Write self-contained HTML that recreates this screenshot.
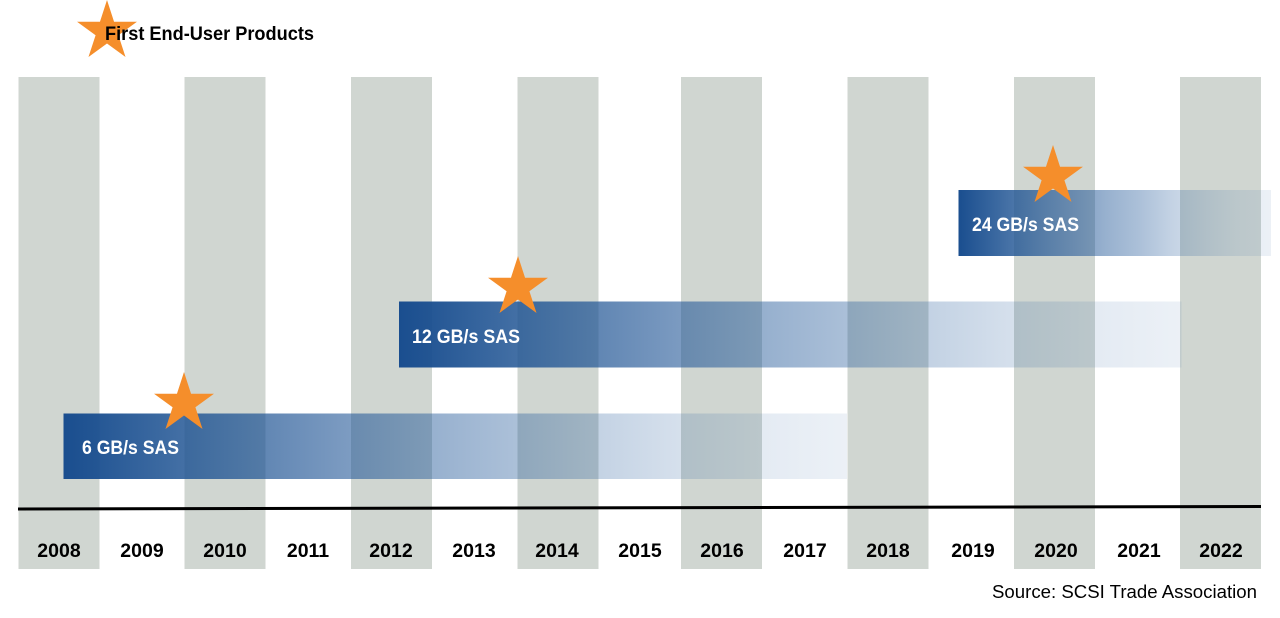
<!DOCTYPE html>
<html>
<head>
<meta charset="utf-8">
<style>
  html, body { margin: 0; padding: 0; background: #ffffff; }
  svg { display: block; }
  text { font-family: "Liberation Sans", "DejaVu Sans", sans-serif; }
</style>
</head>
<body>
<svg width="1280" height="618" viewBox="0 0 1280 618" xmlns="http://www.w3.org/2000/svg">
  <defs>
    <linearGradient id="bg" x1="0" y1="0" x2="1" y2="0">
      <stop offset="0" stop-color="#1a4e8f" stop-opacity="1"/>
      <stop offset="0.13" stop-color="#1d5292" stop-opacity="0.86"/>
      <stop offset="0.26" stop-color="#1f5494" stop-opacity="0.70"/>
      <stop offset="0.37" stop-color="#205596" stop-opacity="0.58"/>
      <stop offset="0.47" stop-color="#225898" stop-opacity="0.47"/>
      <stop offset="0.58" stop-color="#245a9a" stop-opacity="0.38"/>
      <stop offset="0.68" stop-color="#265c9c" stop-opacity="0.275"/>
      <stop offset="0.79" stop-color="#285e9e" stop-opacity="0.19"/>
      <stop offset="0.89" stop-color="#2a60a0" stop-opacity="0.127"/>
      <stop offset="1" stop-color="#2a60a0" stop-opacity="0.09"/>
    </linearGradient>
  </defs>

  <!-- gray columns -->
  <g fill="#d0d6d1">
    <rect x="18.5" y="77" width="81" height="492"/>
    <rect x="184.5" y="77" width="81" height="492"/>
    <rect x="351" y="77" width="81" height="492"/>
    <rect x="517.5" y="77" width="81" height="492"/>
    <rect x="681" y="77" width="81" height="492"/>
    <rect x="847.5" y="77" width="81" height="492"/>
    <rect x="1014" y="77" width="81" height="492"/>
    <rect x="1180" y="77" width="81" height="492"/>
  </g>

  <!-- bars -->
  <rect x="63.5" y="413.5" width="783.5" height="65.5" fill="url(#bg)"/>
  <rect x="399" y="301.5" width="782.5" height="66" fill="url(#bg)"/>
  <rect x="958.5" y="190" width="312.5" height="66" fill="url(#bg)"/>

  <!-- stars -->
  <g fill="#f58e2b">
    <polygon points="107,0 114.05,21.79 136.96,21.77 118.41,35.21 125.52,56.98 107,43.5 88.48,56.98 95.59,35.21 77.04,21.77 99.95,21.79"/>
    <polygon points="184,372 191.05,393.79 213.96,393.77 195.41,407.21 202.52,428.98 184,415.5 165.48,428.98 172.59,407.21 154.04,393.77 176.95,393.79"/>
    <polygon points="518,256 525.05,277.79 547.96,277.77 529.41,291.21 536.52,312.98 518,299.5 499.48,312.98 506.59,291.21 488.04,277.77 510.95,277.79"/>
    <polygon points="1053,145 1060.05,166.79 1082.96,166.77 1064.41,180.21 1071.52,201.98 1053,188.5 1034.48,201.98 1041.59,180.21 1023.04,166.77 1045.95,166.79"/>
  </g>

  <!-- header text -->
  <text x="105" y="40" font-size="19" font-weight="bold" fill="#000" textLength="209" lengthAdjust="spacingAndGlyphs">First End-User Products</text>

  <!-- bar labels -->
  <text x="82" y="454" font-size="19.5" font-weight="bold" fill="#fff" textLength="97" lengthAdjust="spacingAndGlyphs">6 GB/s SAS</text>
  <text x="412" y="343" font-size="19.5" font-weight="bold" fill="#fff" textLength="108" lengthAdjust="spacingAndGlyphs">12 GB/s SAS</text>
  <text x="972" y="231" font-size="19.5" font-weight="bold" fill="#fff" textLength="107" lengthAdjust="spacingAndGlyphs">24 GB/s SAS</text>

  <!-- axis line -->
  <line x1="18" y1="509" x2="1261" y2="506.5" stroke="#000" stroke-width="3"/>

  <!-- year labels -->
  <g font-size="19.5" font-weight="bold" fill="#000" text-anchor="middle">
    <text x="59" y="557">2008</text>
    <text x="142" y="557">2009</text>
    <text x="225" y="557">2010</text>
    <text x="308" y="557">2011</text>
    <text x="391" y="557">2012</text>
    <text x="474" y="557">2013</text>
    <text x="557" y="557">2014</text>
    <text x="640" y="557">2015</text>
    <text x="722" y="557">2016</text>
    <text x="805" y="557">2017</text>
    <text x="888" y="557">2018</text>
    <text x="973" y="557">2019</text>
    <text x="1056" y="557">2020</text>
    <text x="1139" y="557">2021</text>
    <text x="1221" y="557">2022</text>
  </g>

  <!-- source -->
  <text x="992" y="598" font-size="18" fill="#000" textLength="265" lengthAdjust="spacingAndGlyphs">Source: SCSI Trade Association</text>
</svg>
</body>
</html>
